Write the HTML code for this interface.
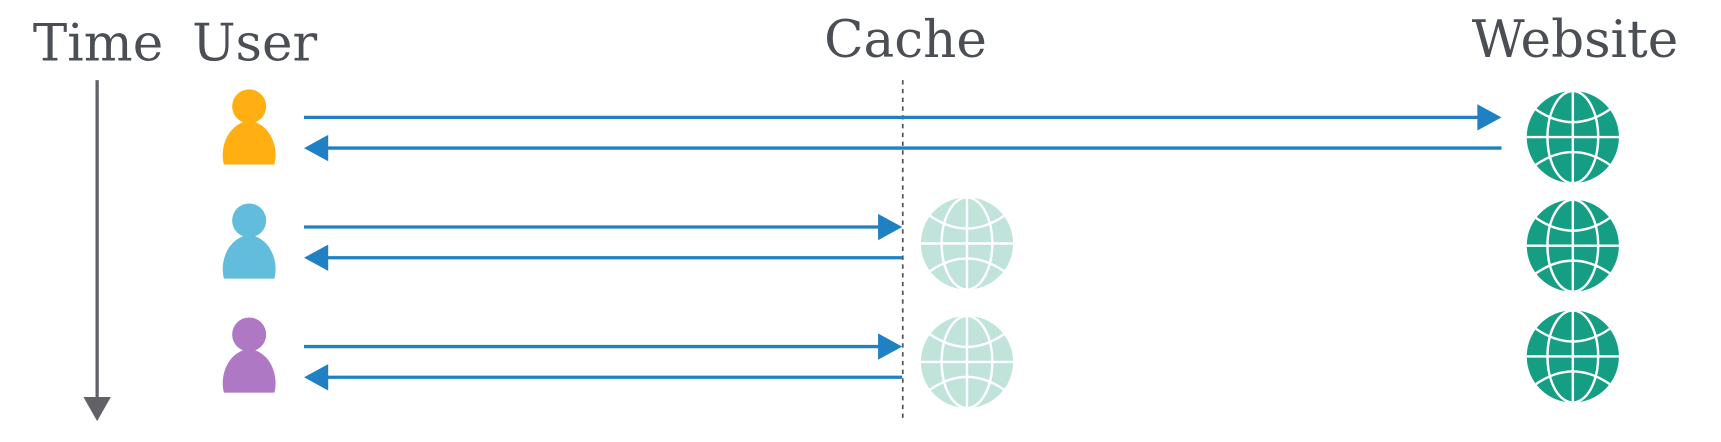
<!DOCTYPE html>
<html><head><meta charset="utf-8"><style>
html,body{margin:0;padding:0;background:#fff;width:1721px;height:442px;overflow:hidden}
svg{display:block}
text{font-family:"DejaVu Serif","Liberation Serif",serif;fill:#4b4e54;font-size:47px}
</style></head><body>
<svg id="d" width="1721" height="442" viewBox="0 0 1568 403" preserveAspectRatio="none">
<text x="30" y="55">Time</text>
<text x="175" y="55">User</text>
<text x="825" y="52" text-anchor="middle">Cache</text>
<text x="1435" y="52" text-anchor="middle">Website</text>
<g>
<line x1="88.5" y1="73" x2="88.5" y2="364" stroke="#616166" stroke-width="3"/>
<polygon points="76,362 101,362 88.5,384" fill="#616166"/>
</g>
<line x1="822.5" y1="73" x2="822.5" y2="385" stroke="#555" stroke-width="1.6" stroke-dasharray="4,4"/>
<g id="content"></g>
</svg>
<script>
const userY=[97,201,305];
const arrowY=[107,207,316];
const websiteGlobeY=[125,224,325];
const cacheGlobeY=[null,222,330];
const userColors=['#ffaf12','#62bcdb','#ae78c4'];
const requestEnds=[1368,822,822];
const NS='http://www.w3.org/2000/svg';
const g=document.getElementById('content');
function el(t,a,p){const e=document.createElementNS(NS,t);for(const k in a)e.setAttribute(k,a[k]);(p||g).appendChild(e);return e;}
function globe(cx,cy,r,fill,name){
 const gg=el('g',{});
 
 
 el('circle',{cx:cx,cy:cy,r:r,fill:fill},gg);
 const s={stroke:'#fff','stroke-width':2.2,fill:'none'};
 el('line',Object.assign({x1:cx-r,y1:cy,x2:cx+r,y2:cy},s),gg);
 el('line',Object.assign({x1:cx,y1:cy-r,x2:cx,y2:cy+r},s),gg);
 el('ellipse',Object.assign({cx:cx,cy:cy,rx:r*0.55,ry:r},s),gg);
 el('path',Object.assign({d:`M${cx-r*0.8} ${cy-r*0.6} Q${cx} ${cy-r*0.05} ${cx+r*0.8} ${cy-r*0.6}`},s),gg);
 el('path',Object.assign({d:`M${cx-r*0.8} ${cy+r*0.6} Q${cx} ${cy+r*0.05} ${cx+r*0.8} ${cy+r*0.6}`},s),gg);
}
userY.forEach((y,i)=>{
 const u=el('g',{});
 
 
 el('circle',{cx:227,cy:y,r:15.5,fill:userColors[i]},u);
 el('path',{d:`M204 ${y+53} C200 ${y+38} 207 ${y+16} 227 ${y+13} C247 ${y+16} 254 ${y+38} 250 ${y+53} Z`,fill:userColors[i]},u);
 const end=requestEnds[i];
 const ay=arrowY[i];
 const a=el('g',{});
 
 
 el('line',{x1:277,y1:ay,x2:end-20,y2:ay,stroke:'#1f81c4','stroke-width':3},a);
 el('polygon',{points:`${end-22},${ay-12} ${end},${ay} ${end-22},${ay+12}`,fill:'#1f81c4'},a);
 const b=el('g',{});
 
 
 el('line',{x1:297,y1:ay+28,x2:end,y2:ay+28,stroke:'#1f81c4','stroke-width':3},b);
 el('polygon',{points:`299,${ay+16} 277,${ay+28} 299,${ay+40}`,fill:'#1f81c4'},b);
 globe(1433,websiteGlobeY[i],42,'#169e84','website-globe-'+(i+1));
 if(cacheGlobeY[i]!==null) globe(881,cacheGlobeY[i],42,'#c0e4da','cache-globe-'+(i+1));
});
</script>
</body></html>
